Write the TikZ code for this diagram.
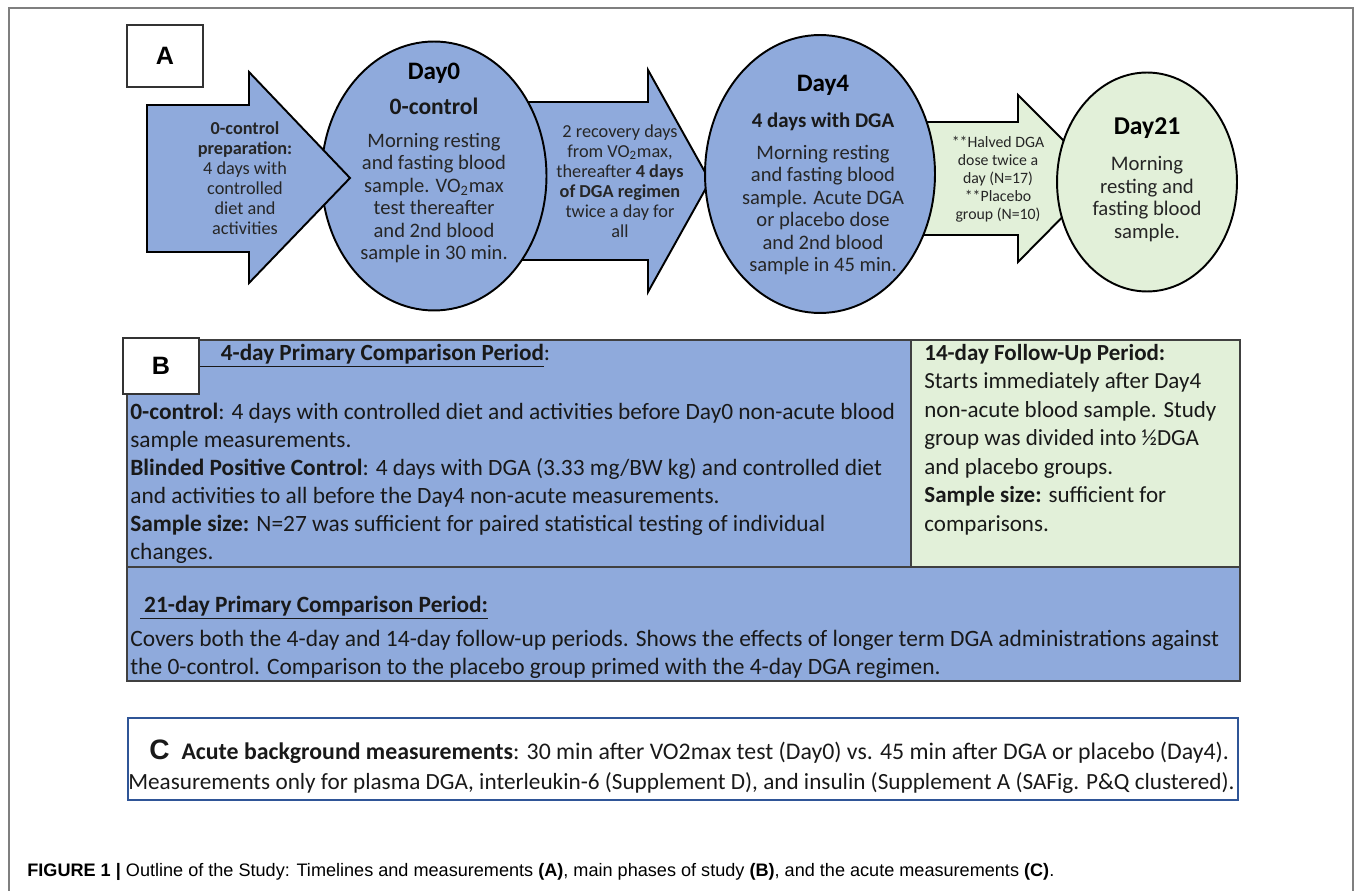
\documentclass[tikz,border=0pt]{standalone}
\usepackage{fontspec}
\setmainfont{Carlito}
\newfontfamily\arialfont{Liberation Sans}
\usetikzlibrary{shapes.geometric}
\definecolor{dgablue}{HTML}{8FAADC}
\definecolor{dgagreen}{HTML}{E2F0D9}
\definecolor{framegray}{HTML}{7F7F7F}
\definecolor{cblue}{HTML}{2F5597}
\definecolor{txtgray}{HTML}{262626}
\tikzset{
  blueshape/.style={draw=black, line width=1.1pt, fill=dgablue},
  greenshape/.style={draw=black, line width=1.1pt, fill=dgagreen},
  dayellipse/.style={ellipse, inner sep=0pt, outer sep=0pt},
  daytitle/.style={font=\fontsize{14.3}{16}\selectfont\bfseries, text=black, inner sep=0pt},
  daysub/.style={font=\fontsize{11.9}{13}\selectfont\bfseries, text=black!90, inner sep=0pt},
  daybody/.style={align=center, font=\fontsize{11.7}{12.8}\selectfont, text=txtgray, inner sep=0pt},
  arrowtext/.style={align=center, font=\fontsize{10.4}{11.4}\selectfont, text=txtgray, inner sep=0pt},
  letterbox/.style={draw=black!80, fill=white, line width=0.8pt, inner sep=0pt, font=\arialfont\bfseries\fontsize{14.3}{17}\selectfont},
  tabtext/.style={align=left, inner sep=0pt, font=\fontsize{13.3}{15.9}\selectfont, text=black!90},
}
\begin{document}
\begin{tikzpicture}[x=0.02cm, y=-0.02cm]
  \useasboundingbox (0,0) rectangle (1355,891);
  \draw[framegray, line width=0.6pt] (9,891) -- (9,8) -- (1353,8) -- (1353,891);

  \node[letterbox, minimum width=1.52cm, minimum height=1.24cm] (boxA) at (165,56) {A};

  \draw[blueshape] (500,102) -- (648,102) -- (648,70) -- (710,181) -- (648,292) -- (648,260) -- (500,260) -- cycle;
  \draw[greenshape] (900,122) -- (1018,122) -- (1018,95) -- (1101,178) -- (1018,262) -- (1018,235) -- (900,235) -- cycle;

  \node[dayellipse, blueshape, minimum width=4.5cm, minimum height=5.38cm] (day0) at (434,176) {};
  \node[dayellipse, blueshape, minimum width=4.6cm, minimum height=5.56cm] (day4) at (820,174) {};
  \node[dayellipse, greenshape, minimum width=3.6cm, minimum height=4.38cm] (day21) at (1147,182) {};

  \draw[blueshape] (147,105) -- (249,105) -- (249,72) -- (350,178) -- (249,283) -- (249,252) -- (147,252) -- cycle;

  \node[arrowtext] (prep) at (245,178) {\textbf{0-control}\\\textbf{preparation:}\\4 days with\\controlled\\diet and\\activities};
  \node[arrowtext] (recov) at (620,181) {2 recovery days\\from VO\textsubscript{2}max,\\thereafter \textbf{4 days}\\\textbf{of DGA regimen}\\twice a day for\\all};
  \node[arrowtext, font=\fontsize{9}{10.2}\selectfont] (halved) at (998,179) {**Halved DGA\\dose twice a\\day (N=17)\\**Placebo\\group (N=10)};

  \node[daytitle] (day0t) at (434,73) {Day0};
  \node[daysub, font=\fontsize{13.4}{15}\selectfont\bfseries] (day0s) at (434,106) {0-control};
  \node[daybody] (day0b) at (434,198) {Morning resting\\and fasting blood\\sample. VO\textsubscript{2}max\\test thereafter\\and 2nd blood\\sample in 30 min.};

  \node[daytitle] (day4t) at (823,85) {Day4};
  \node[daysub] (day4s) at (823,122) {4 days with DGA};
  \node[daybody] (day4b) at (823,210) {Morning resting\\and fasting blood\\sample. Acute DGA\\or placebo dose\\and 2nd blood\\sample in 45 min.};

  \node[daytitle, font=\fontsize{14.6}{16}\selectfont\bfseries] (day21t) at (1147,128) {Day21};
  \node[daybody, font=\fontsize{11.8}{12.8}\selectfont] (day21b) at (1147,199) {Morning\\resting and\\fasting blood\\sample.};

  \draw[fill=dgablue, draw=black!75, line width=0.6pt] (127,340) rectangle (1240,681);
  \draw[fill=dgagreen, draw=black!75, line width=0.6pt] (911,340) rectangle (1240,567);
  \draw[black!75, line width=0.6pt] (127,567) -- (911,567);
  \node[letterbox, minimum width=1.52cm, minimum height=1.12cm] (boxB) at (161,366) {B};

  \node[tabtext, anchor=west, font=\fontsize{13.2}{15}\selectfont] (head4) at (boxB.east |- 0,356) {\underline{\hspace{0.9em}\textbf{4-day Primary Comparison Period}}:};
  \node[tabtext, anchor=north west] (body4) at (130,403) {\textbf{0-control}: 4 days with controlled diet and activities before Day0 non-acute blood\\
sample measurements.\\
\textbf{Blinded Positive Control}: 4 days with DGA (3.33 mg/BW kg) and controlled diet\\
and activities to all before the Day4 non-acute measurements.\\
\textbf{Sample size:} N=27 was sufficient for paired statistical testing of individual\\
changes.};
  \node[tabtext, anchor=north west, font=\fontsize{13.1}{16.2}\selectfont] (body14) at (924,344) {\textbf{14-day Follow-Up Period:}\\
Starts immediately after Day4\\
non-acute blood sample. Study\\
group was divided into ½DGA\\
and placebo groups.\\
\textbf{Sample size:} sufficient for\\
comparisons.};
  \node[tabtext, anchor=west] (head21) at (140,608) {\underline{\textbf{\,21-day Primary Comparison Period:}}};
  \node[tabtext, anchor=north west, font=\fontsize{13.35}{15.9}\selectfont] (body21) at (130,630) {Covers both the 4-day and 14-day follow-up periods. Shows the effects of longer term DGA administrations against\\
the 0-control. Comparison to the placebo group primed with the 4-day DGA regimen.};

  \draw[cblue, line width=1.4pt] (128,718) rectangle (1238,800);
  \node[tabtext, anchor=west, font=\fontsize{13.55}{15}\selectfont] (acute) at (149,752) {{\arialfont\bfseries\fontsize{16}{18}\selectfont C}\hspace{0.5em}\textbf{Acute background measurements}: 30 min after VO2max test (Day0) vs. 45 min after DGA or placebo (Day4).};
  \node[tabtext, anchor=west, font=\fontsize{13.2}{15}\selectfont] (meas) at (128,783) {Measurements only for plasma DGA, interleukin-6 (Supplement D), and insulin (Supplement A (SAFig. P\&Q clustered).};

  \node[anchor=west, inner sep=0pt, font=\arialfont\fontsize{10.3}{12}\selectfont] (caption) at (27,872) {\textbf{FIGURE 1 |} Outline of the Study: Timelines and measurements \textbf{(A)}, main phases of study \textbf{(B)}, and the acute measurements \textbf{(C)}.};
\end{tikzpicture}
\end{document}
